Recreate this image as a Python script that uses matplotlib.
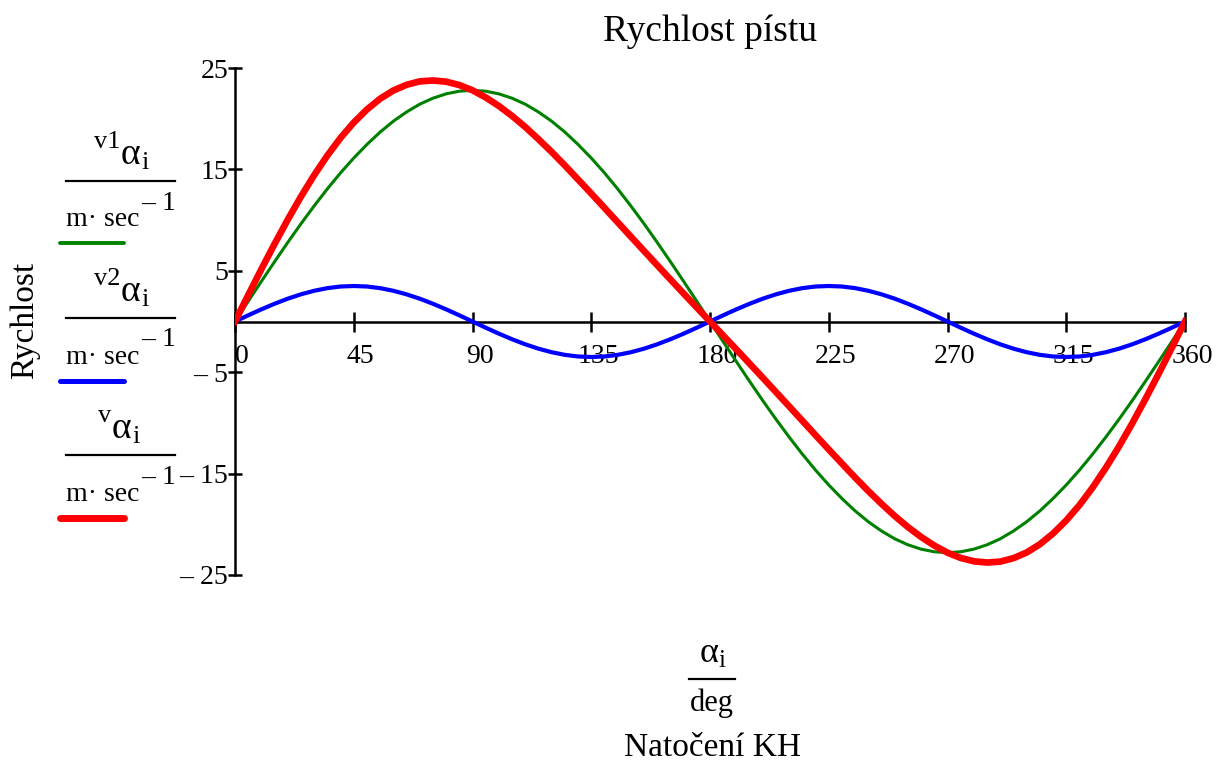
import matplotlib.pyplot as plt
from matplotlib.lines import Line2D
from matplotlib.transforms import ScaledTranslation

plt.rcParams['font.family'] = ['Liberation Serif', 'DejaVu Serif']

# crank angle [deg], values every 5 deg
alpha = [0, 5, 10, 15, 20, 25, 30, 35, 40, 45, 50, 55, 60, 65, 70, 75, 80, 85, 90,
         95, 100, 105, 110, 115, 120, 125, 130, 135, 140, 145, 150, 155, 160, 165, 170, 175, 180,
         185, 190, 195, 200, 205, 210, 215, 220, 225, 230, 235, 240, 245, 250, 255, 260, 265, 270,
         275, 280, 285, 290, 295, 300, 305, 310, 315, 320, 325, 330, 335, 340, 345, 350, 355, 360]

v1 = [0, 1.99, 3.96, 5.90, 7.80, 9.64, 11.40, 13.08, 14.66, 16.12, 17.46, 18.68, 19.75, 20.66, 21.43, 22.02, 22.45, 22.71, 22.80,
      22.71, 22.45, 22.02, 21.43, 20.66, 19.75, 18.68, 17.46, 16.12, 14.66, 13.08, 11.40, 9.64, 7.80, 5.90, 3.96, 1.99, 0,
      -1.99, -3.96, -5.90, -7.80, -9.64, -11.40, -13.08, -14.66, -16.12, -17.46, -18.68, -19.75, -20.66, -21.43, -22.02, -22.45, -22.71, -22.80,
      -22.71, -22.45, -22.02, -21.43, -20.66, -19.75, -18.68, -17.46, -16.12, -14.66, -13.08, -11.40, -9.64, -7.80, -5.90, -3.96, -1.99, 0]

v2 = [0, 0.61, 1.20, 1.75, 2.25, 2.68, 3.03, 3.29, 3.45, 3.50, 3.45, 3.29, 3.03, 2.68, 2.25, 1.75, 1.20, 0.61, 0,
      -0.61, -1.20, -1.75, -2.25, -2.68, -3.03, -3.29, -3.45, -3.50, -3.45, -3.29, -3.03, -2.68, -2.25, -1.75, -1.20, -0.61, 0,
      0.61, 1.20, 1.75, 2.25, 2.68, 3.03, 3.29, 3.45, 3.50, 3.45, 3.29, 3.03, 2.68, 2.25, 1.75, 1.20, 0.61, 0,
      -0.61, -1.20, -1.75, -2.25, -2.68, -3.03, -3.29, -3.45, -3.50, -3.45, -3.29, -3.03, -2.68, -2.25, -1.75, -1.20, -0.61, 0]

v = [0, 2.60, 5.16, 7.65, 10.05, 12.32, 14.43, 16.37, 18.11, 19.62, 20.91, 21.97, 22.78, 23.34, 23.68, 23.77, 23.65, 23.32, 22.80,
     22.10, 21.25, 20.27, 19.18, 17.98, 16.72, 15.39, 14.01, 12.62, 11.21, 9.79, 8.37, 6.96, 5.55, 4.15, 2.76, 1.38, 0,
     -1.38, -2.76, -4.15, -5.55, -6.96, -8.37, -9.79, -11.21, -12.62, -14.01, -15.39, -16.72, -17.98, -19.18, -20.27, -21.25, -22.10, -22.80,
     -23.32, -23.65, -23.77, -23.68, -23.34, -22.78, -21.97, -20.91, -19.62, -18.11, -16.37, -14.43, -12.32, -10.05, -7.65, -5.16, -2.60, 0]

xticks = [0, 45, 90, 135, 180, 225, 270, 315, 360]
yticks = [25, 15, 5, -5, -15, -25]
ytick_labels = ['25', '15', '5', '– 5', '– 15', '– 25']
series_names = ['v1', 'v2', 'v']
series_colors = ['#008000', '#0000ff', '#ff0000']

W, H = 1216, 765
fig = plt.figure(figsize=(W / 100, H / 100), dpi=100)
ax = fig.add_axes([235 / W, 1 - 575 / H, 950 / W, 507 / H])

ax.plot(alpha, v1, color=series_colors[0], lw=2.2, zorder=3)
ax.plot(alpha, v2, color=series_colors[1], lw=3.0, zorder=3)
ax.plot(alpha, v, color=series_colors[2], lw=4.8, zorder=4)

ax.set_xlim(0, 360)
ax.set_ylim(-25, 25)
ax.spines['top'].set_visible(False)
ax.spines['right'].set_visible(False)
ax.spines['bottom'].set_position(('data', 0))
ax.spines['left'].set_position(('data', 0))
for s in ('bottom', 'left'):
    ax.spines[s].set_linewidth(1.8)
    ax.spines[s].set_zorder(2)

ax.set_xticks(xticks)
ax.set_yticks(yticks)
ax.set_yticklabels(ytick_labels)
ax.tick_params(axis='x', direction='inout', length=14, width=1.8, pad=9, labelsize=20)
ax.tick_params(axis='y', direction='inout', length=10, width=1.8, pad=0, labelsize=20)
shift = ScaledTranslation(7 / 100, 0, fig.dpi_scale_trans)
for lab in ax.get_xticklabels():
    lab.set_transform(lab.get_transform() + shift)

fig.text(710 / W, 1 - 32 / H, 'Rychlost pístu', ha='center', va='center', fontsize=27)
fig.text(25 / W, 1 - 320 / H, 'Rychlost', ha='center', va='center', rotation=90, fontsize=24)


def ftext(x, y, s, **kw):
    return fig.text(x / W, 1 - y / H, s, **kw)


# legend-like fractions on the left (Mathcad style)
ynums = [151, 288, 425]
ylines = [181, 318, 455]
ysamps = [243, 381, 518]
alpha_x = [121, 121, 112]
sample_lw = [2.8, 3.6, 5.0]
for name, col, ynum, yline, ysamp, ax_x, lw in zip(series_names, series_colors, ynums, ylines,
                                                    ysamps, alpha_x, sample_lw):
    ftext(ax_x - 1, ynum - 9, name, ha='right', va='center', fontsize=19)
    ftext(ax_x, ynum + 4, 'α', ha='left', va='center', fontsize=27)
    ftext(ax_x + 20, ynum + 12, 'i', ha='left', va='center', fontsize=19)
    fig.add_artist(Line2D([66 / W, 175 / W], [1 - yline / H, 1 - yline / H], color='black', lw=1.6))
    ftext(66, yline + 39, 'm· sec', ha='left', va='center', fontsize=20)
    ftext(141, yline + 22, '– 1', ha='left', va='center', fontsize=20)
    fig.add_artist(Line2D([60 / W, 124 / W], [1 - ysamp / H, 1 - ysamp / H], color=col, lw=lw,
                          solid_capstyle='round'))

# x axis label as fraction
ftext(700, 654, 'α', ha='left', va='center', fontsize=26)
ftext(718, 661, 'i', ha='left', va='center', fontsize=18)
fig.add_artist(Line2D([689 / W, 735 / W], [1 - 679 / H, 1 - 679 / H], color='black', lw=1.6))
ftext(712, 703, 'deg', ha='center', va='center', fontsize=22)
ftext(712, 748, 'Natočení KH', ha='center', va='center', fontsize=24)

fig.savefig('out.png', dpi=100)
